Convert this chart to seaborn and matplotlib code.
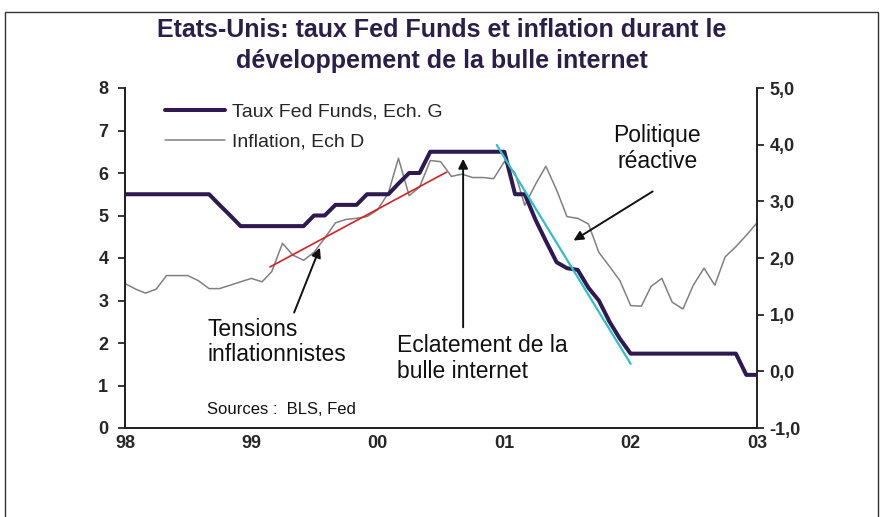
import pandas as pd
import matplotlib
matplotlib.use("Agg")
import matplotlib.pyplot as plt
import matplotlib.ticker as mticker
import matplotlib.dates as mdates
from matplotlib.patches import Rectangle
import seaborn as sns

# monthly observations, Jan 1998 -> Jan 2003
months = pd.date_range("1998-01-01", "2003-01-01", freq="MS")

fed_funds = [5.5, 5.5, 5.5, 5.5, 5.5, 5.5, 5.5, 5.5, 5.5, 5.25, 5.0, 4.75,
             4.75, 4.75, 4.75, 4.75, 4.75, 4.75, 5.0, 5.0, 5.25, 5.25, 5.25, 5.5,
             5.5, 5.5, 5.75, 6.0, 6.0, 6.5, 6.5, 6.5, 6.5, 6.5, 6.5, 6.5,
             6.5, 5.5, 5.5, 4.9, 4.4, 3.9, 3.76, 3.72, 3.3, 3.0, 2.5, 2.1,
             1.75, 1.75, 1.75, 1.75, 1.75, 1.75, 1.75, 1.75, 1.75, 1.75, 1.75, 1.25,
             1.25]

inflation = [1.55, 1.45, 1.38, 1.45, 1.69, 1.69, 1.69, 1.6, 1.46, 1.46, 1.52, 1.58,
             1.64, 1.58, 1.76, 2.26, 2.05, 1.96, 2.1, 2.35, 2.62, 2.68, 2.7, 2.73,
             2.85, 3.15, 3.76, 3.1, 3.25, 3.72, 3.7, 3.44, 3.48, 3.42, 3.42, 3.4,
             3.7, 3.5, 2.93, 3.3, 3.62, 3.2, 2.73, 2.7, 2.6, 2.1, 1.85, 1.6,
             1.16, 1.15, 1.5, 1.64, 1.22, 1.1, 1.52, 1.82, 1.52, 2.02, 2.2, 2.4,
             2.62]

# hand-drawn trend lines (left scale)
red_x = [pd.Timestamp("1999-02-24"), pd.Timestamp("2000-07-18")]
red_y = [3.79, 6.02]
cyan_x = [pd.Timestamp("2000-12-10"), pd.Timestamp("2002-01-01")]
cyan_y = [6.66, 1.51]

year_ticks = pd.date_range("1998-01-01", "2003-01-01", freq="YS")
year_labels = ["98", "99", "00", "01", "02", "03"]
left_ticks = [0, 1, 2, 3, 4, 5, 6, 7, 8]
right_ticks = [-1, 0, 1, 2, 3, 4, 5]

sns.set_style("white")
plt.rcParams["font.family"] = ["Liberation Sans", "DejaVu Sans"]

fig = plt.figure(figsize=(8.84, 5.17), dpi=100)
ax = fig.add_axes([125 / 884, 1 - 428 / 517, 632 / 884, 340 / 517])
ax2 = ax.twinx()
ax.set_zorder(ax2.get_zorder() + 1)
ax.patch.set_visible(False)

sns.lineplot(x=months, y=inflation, ax=ax2, color="#808080", linewidth=1.1,
             label="Inflation, Ech D", legend=False)
sns.lineplot(x=months, y=fed_funds, ax=ax, color="#2e1a50", linewidth=2.9,
             label="Taux Fed Funds, Ech. G", legend=False)

ax.plot(red_x, red_y, color="#d42222", linewidth=1.2)
ax.plot(cyan_x, cyan_y, color="#2fc0c8", linewidth=1.6)

ax.set_xlim(year_ticks[0], year_ticks[-1])
ax.set_ylim(0, 8)
ax2.set_ylim(-1, 5)
ax.set_xticks(year_ticks)
ax.set_xticklabels(year_labels)
ax.xaxis.set_minor_locator(mdates.MonthLocator(bymonth=[4, 7, 10]))
ax.set_yticks(left_ticks)
ax2.set_yticks(right_ticks)
ax2.yaxis.set_major_formatter(mticker.FuncFormatter(lambda v, p: f"{v:.1f}".replace(".", ",")))
ax.set_xlabel("")
ax.set_ylabel("")
ax2.set_ylabel("")

for a in (ax, ax2):
    a.spines["top"].set_visible(False)
    for s in ("left", "right", "bottom"):
        a.spines[s].set_linewidth(1.4)
        a.spines[s].set_color("#222222")
ax.spines["right"].set_visible(False)

ax.tick_params(axis="y", direction="out", length=5, width=1.3, labelsize=13, pad=7)
ax.tick_params(axis="x", which="major", direction="inout", length=10, width=1.3, labelsize=13, pad=0)
ax.tick_params(axis="x", which="minor", direction="in", length=4, width=1.2)
ax2.tick_params(axis="y", direction="out", length=5, width=1.3, labelsize=13, pad=4)
for lab in ax.get_xticklabels() + ax.get_yticklabels() + ax2.get_yticklabels():
    lab.set_fontweight("bold")

h1, l1 = ax.get_legend_handles_labels()
h2, l2 = ax2.get_legend_handles_labels()
ax.legend([h1[0], h2[0]], [l1[0], l2[0]], loc="upper left",
          bbox_to_anchor=(0.063, 0.955), frameon=False, fontsize=14,
          handlelength=3.1, handletextpad=0.35, labelspacing=0.62,
          borderpad=0, borderaxespad=0)

# annotations
txt = dict(fontsize=16.5, color="#111111", linespacing=1.15)
arrow = dict(arrowstyle="-|>", color="#111111", lw=1.4, mutation_scale=14)
ax.text(0.130, 0.325, "Tensions\ninflationnistes", transform=ax.transAxes, va="top", ha="left", **txt)
ax.annotate("", xy=(0.310, 0.538), xytext=(0.266, 0.332), xycoords="axes fraction",
            textcoords="axes fraction", arrowprops=arrow)
ax.text(0.430, 0.275, "Eclatement de la\nbulle internet", transform=ax.transAxes, va="top", ha="left", **txt)
ax.annotate("", xy=(0.535, 0.80), xytext=(0.535, 0.288), xycoords="axes fraction",
            textcoords="axes fraction", arrowprops=arrow)
ax.text(0.842, 0.893, "Politique\nréactive", transform=ax.transAxes, va="top", ha="center",
        multialignment="center", **txt)
ax.annotate("", xy=(0.706, 0.547), xytext=(0.8386, 0.70), xycoords="axes fraction",
            textcoords="axes fraction", arrowprops=arrow)
ax.text(0.130, 0.075, "Sources :  BLS, Fed", transform=ax.transAxes, va="top", ha="left",
        fontsize=12, color="#111111")

fig.text(0.5, 0.966, "Etats-Unis: taux Fed Funds et inflation durant le\ndéveloppement de la bulle internet",
         ha="center", va="top", fontsize=18, fontweight="bold", color="#2a1f48", linespacing=1.38)

fig.patches.append(Rectangle((5 / 884, -0.05), 873 / 884, 1 - 12 / 517 + 0.05,
                             transform=fig.transFigure, fill=False, edgecolor="#333333",
                             linewidth=1.0))

fig.savefig("out.png", dpi=100, facecolor="white")
